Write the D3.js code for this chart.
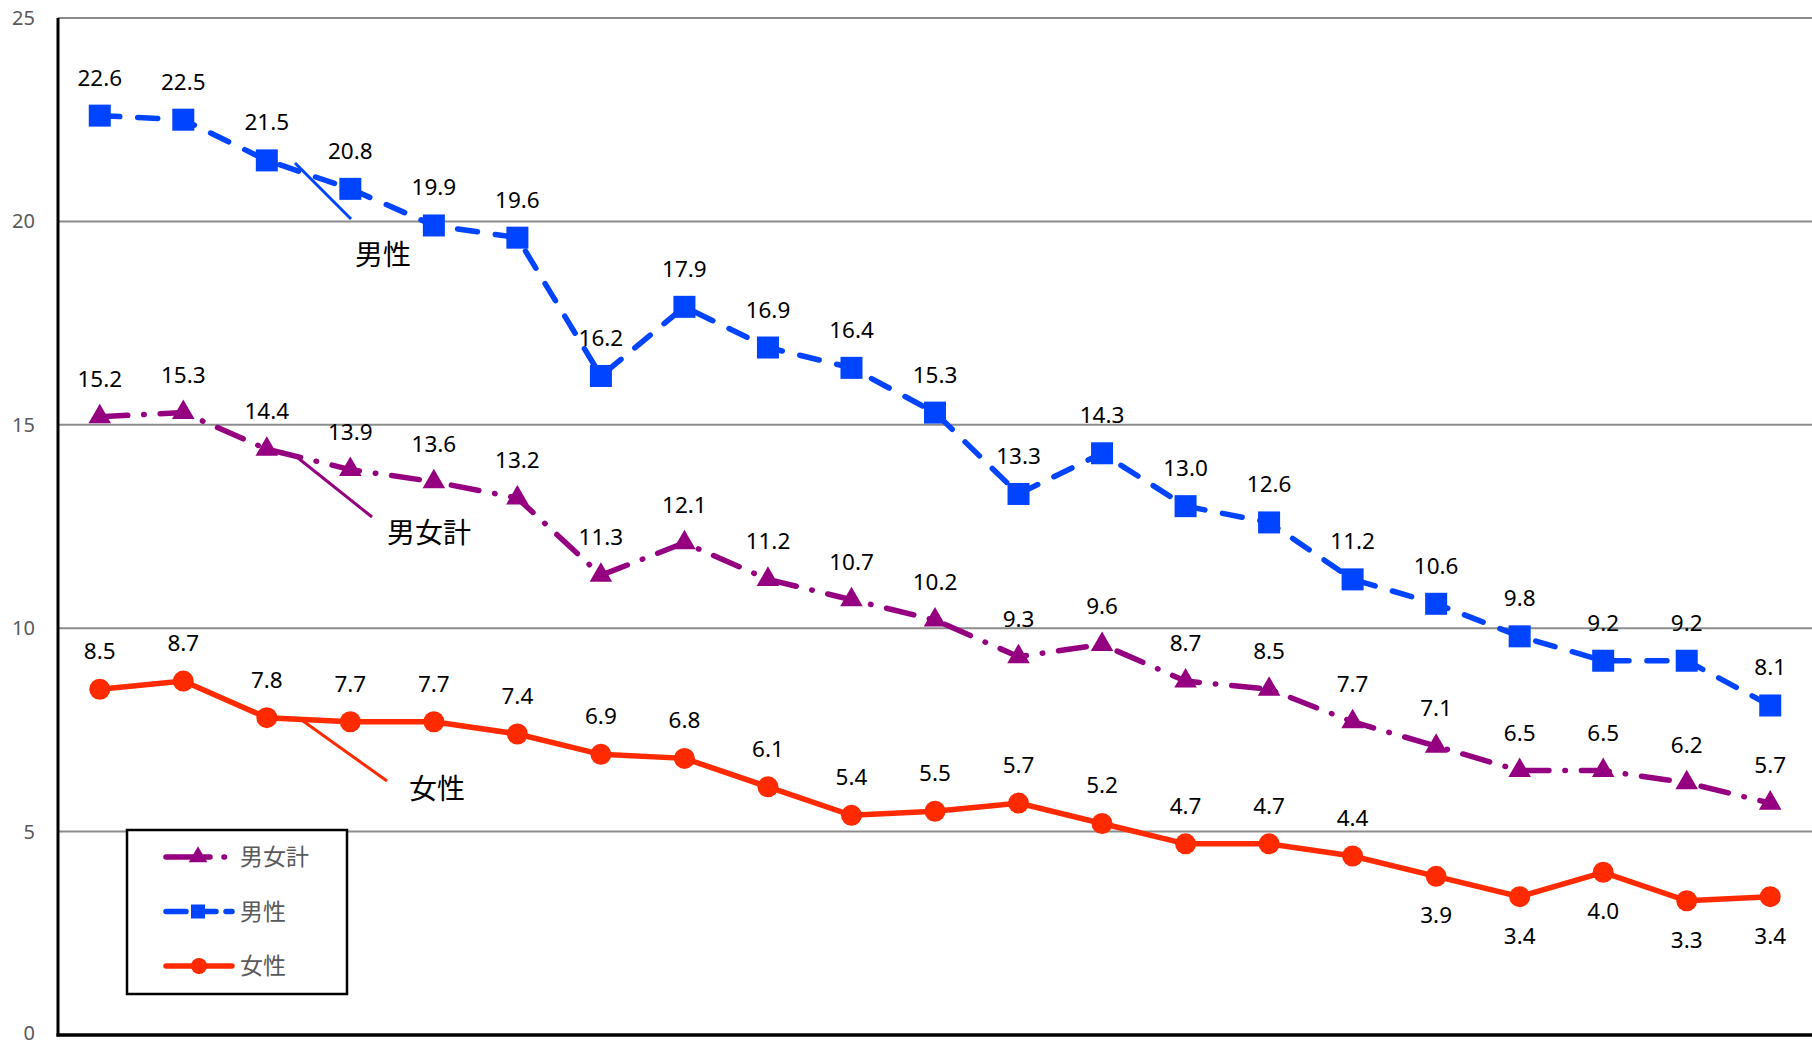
<!DOCTYPE html>
<html><head><meta charset="utf-8">
<script src="https://cdn.jsdelivr.net/npm/d3@7"></script>
<style>body{margin:0;background:#fff}svg{display:block}</style>
</head><body>
<svg id="c" width="1812" height="1046"></svg>
<script>
const categories = d3.range(1, 22).map(String);
const yTicks = [0, 5, 10, 15, 20, 25];
const total = [15.2,15.3,14.4,13.9,13.6,13.2,11.3,12.1,11.2,10.7,10.2,9.3,9.6,8.7,8.5,7.7,7.1,6.5,6.5,6.2,5.7];
const male = [22.6,22.5,21.5,20.8,19.9,19.6,16.2,17.9,16.9,16.4,15.3,13.3,14.3,13.0,12.6,11.2,10.6,9.8,9.2,9.2,8.1];
const female = [8.5,8.7,7.8,7.7,7.7,7.4,6.9,6.8,6.1,5.4,5.5,5.7,5.2,4.7,4.7,4.4,3.9,3.4,4.0,3.3,3.4];
const femaleBelow = [16,17,18,19,20];
const seriesNames = ["男女計","男性","女性"];

const W = 1812, H = 1046;
const m = {left: 58, right: 0, top: 18, bottom: 10};
const svg = d3.select("#c");
const x = d3.scaleBand().domain(categories).range([m.left, W - m.right]);
const y = d3.scaleLinear().domain([0, 25]).range([1035, m.top]);
const cx = i => x(categories[i]) + x.bandwidth() / 2;
const FONT = "'Noto Sans','Noto Sans CJK JP',sans-serif";

// gridlines
svg.append("g").selectAll("line").data(yTicks.filter(d => d > 0)).join("line")
  .attr("x1", m.left).attr("x2", W).attr("y1", d => y(d)).attr("y2", d => y(d))
  .attr("stroke", "#8c8c8c").attr("stroke-width", 2);

// y axis labels
const yAxis = d3.axisLeft(y).tickValues(yTicks).tickSize(0).tickPadding(23);
const ga = svg.append("g").attr("transform", `translate(${m.left},0)`).call(yAxis);
ga.select(".domain").remove();
ga.selectAll("text").attr("font-family", FONT).attr("font-size", 20).attr("fill", "#595959")
  .attr("dy", d => d === 0 ? "0.2em" : "0.32em");

// axes lines
svg.append("line").attr("x1", m.left).attr("x2", m.left).attr("y1", y(25)).attr("y2", y(0) + 1.5)
  .attr("stroke", "#000").attr("stroke-width", 3);
svg.append("line").attr("x1", m.left - 1.5).attr("x2", W).attr("y1", y(0)).attr("y2", y(0))
  .attr("stroke", "#000").attr("stroke-width", 3.5);

const colors = {total: "#950080", male: "#0044ff", female: "#ff2a00"};
const line = d3.line().x((d, i) => cx(i)).y(d => y(d));

// leader lines
const leaders = [
  {x1: 295, y1: 163, x2: 351, y2: 219, c: colors.male},
  {x1: 298, y1: 458, x2: 372, y2: 517, c: colors.total},
  {x1: 303, y1: 721, x2: 387, y2: 781, c: colors.female}
];
svg.append("g").selectAll("line").data(leaders).join("line")
  .attr("x1", d => d.x1).attr("y1", d => d.y1).attr("x2", d => d.x2).attr("y2", d => d.y2)
  .attr("stroke", d => d.c).attr("stroke-width", 3);

// lines
svg.append("path").datum(total).attr("d", line).attr("fill", "none")
  .attr("stroke", colors.total).attr("stroke-width", 5.5).attr("stroke-linecap", "round")
  .attr("stroke-dasharray", "28,16,0.5,16");
svg.append("path").datum(male).attr("d", line).attr("fill", "none")
  .attr("stroke", colors.male).attr("stroke-width", 5.5).attr("stroke-linecap", "round")
  .attr("stroke-dasharray", "20,18");
svg.append("path").datum(female).attr("d", line).attr("fill", "none")
  .attr("stroke", colors.female).attr("stroke-width", 5.5).attr("stroke-linecap", "round");

// markers
const tri = d3.symbol().type(d3.symbolTriangle).size(220);
svg.append("g").selectAll("path").data(total).join("path")
  .attr("d", tri).attr("transform", (d, i) => `translate(${cx(i)},${y(d)})`).attr("fill", colors.total);
svg.append("g").selectAll("rect").data(male).join("rect")
  .attr("x", (d, i) => cx(i) - 11).attr("y", d => y(d) - 11).attr("width", 22).attr("height", 22)
  .attr("fill", colors.male);
svg.append("g").selectAll("circle").data(female).join("circle")
  .attr("cx", (d, i) => cx(i)).attr("cy", d => y(d)).attr("r", 10.5).attr("fill", colors.female);

// data labels
function labels(data, below) {
  svg.append("g").selectAll("text").data(data).join("text")
    .attr("x", (d, i) => cx(i))
    .attr("y", (d, i) => (below && below.includes(i)) ? y(d) + 47 : y(d) - 30)
    .attr("text-anchor", "middle").attr("font-family", FONT).attr("font-size", 22.5).attr("fill", "#000")
    .text(d => d.toFixed(1));
}
labels(male); labels(total); labels(female, femaleBelow);

// annotation labels
const ann = [{t: "男性", x: 383, y: 265}, {t: "男女計", x: 429, y: 543}, {t: "女性", x: 437, y: 799}];
svg.append("g").selectAll("text").data(ann).join("text")
  .attr("x", d => d.x).attr("y", d => d.y).attr("text-anchor", "middle")
  .attr("font-family", FONT).attr("font-size", 28).attr("fill", "#000").text(d => d.t);

// legend
const lg = svg.append("g");
lg.append("rect").attr("x", 127).attr("y", 830).attr("width", 220).attr("height", 164)
  .attr("fill", "#fff").attr("stroke", "#000").attr("stroke-width", 2.5);
const items = [
  {n: seriesNames[0], c: colors.total, dash: "44,14,0.5,14", m: "tri"},
  {n: seriesNames[1], c: colors.male, dash: "20,10", m: "sq"},
  {n: seriesNames[2], c: colors.female, dash: null, m: "ci"}
];
items.forEach((it, k) => {
  const yy = 857 + k * 54.5;
  lg.append("line").attr("x1", 166).attr("x2", it.m === "tri" ? 234 : 232).attr("y1", yy).attr("y2", yy)
    .attr("stroke", it.c).attr("stroke-width", 5.5).attr("stroke-linecap", "round")
    .attr("stroke-dasharray", it.dash);
  if (it.m === "tri") lg.append("path").attr("d", d3.symbol().type(d3.symbolTriangle).size(150))
    .attr("transform", `translate(198,${yy})`).attr("fill", it.c);
  if (it.m === "sq") lg.append("rect").attr("x", 191).attr("y", yy - 7).attr("width", 14).attr("height", 14).attr("fill", it.c);
  if (it.m === "ci") lg.append("circle").attr("cx", 199).attr("cy", yy).attr("r", 8).attr("fill", it.c);
  lg.append("text").attr("x", 240).attr("y", yy + 8).attr("font-family", FONT).attr("font-size", 23)
    .attr("fill", "#595959").text(it.n);
});
</script>
</body></html>
